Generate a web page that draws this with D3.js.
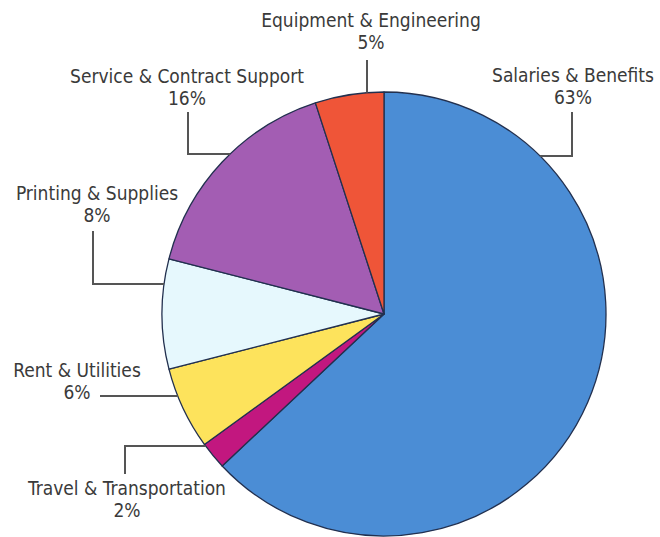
<!DOCTYPE html>
<html>
<head>
<meta charset="utf-8">
<script src="https://cdn.jsdelivr.net/npm/d3@7"></script>
<style>
  body { margin: 0; background: #fff; }
  .lbl { font-family: "Liberation Sans Narrow", "DejaVu Sans Condensed", sans-serif; font-size: 19px; fill: #3a3a3a; }
</style>
</head>
<body>
<div id="chart"></div>
<script>
var svgWidth = 660;
var svgHeight = 537;

// data, clockwise from 12 o'clock
var categories = ["Salaries & Benefits", "Travel & Transportation", "Rent & Utilities",
  "Printing & Supplies", "Service & Contract Support", "Equipment & Engineering"];
var shares = [63, 2, 6, 8, 16, 5];
var colors = ["#4b8dd5", "#c2177f", "#fde35c", "#e6f8fd", "#a35db3", "#ef5538"];

// label layout: text centre x, first baseline y, and leader path kind
var labelPos = [
  { x: 573, y: 82, leader: "downLeft", lx: 572, ly1: 112, ly: 156 },
  { x: 127, y: 495, leader: "upRight", lx: 125, ly1: 474, ly: 446 },
  { x: 77, y: 377, leader: "right", lx: 100, ly: 396 },
  { x: 97, y: 200, leader: "downRight", lx: 93, ly1: 231, ly: 284 },
  { x: 187, y: 83, leader: "downRight", lx: 188, ly1: 112, ly: 154 },
  { x: 371, y: 27, leader: "down", lx: 367, ly1: 60 }
];

var cx = 384, cy = 314, radius = 222;

var svg = d3.select("#chart")
  .append("svg")
  .attr("width", svgWidth)
  .attr("height", svgHeight);

var pieGroup = svg.append("g")
  .attr("transform", `translate(${cx}, ${cy})`);

var pie = d3.pie().sort(null).value(d => d);
var arc = d3.arc().innerRadius(0).outerRadius(radius);

pieGroup.selectAll("path")
  .data(pie(shares))
  .enter()
  .append("path")
  .attr("d", arc)
  .attr("fill", (d, i) => colors[i])
  .attr("stroke", "#22304f")
  .attr("stroke-width", 1.3)
  .attr("stroke-linejoin", "round");

// where a horizontal line at y meets the pie edge
function edgeX(y, side) {
  var dy = y - cy;
  return cx + side * Math.sqrt(radius * radius - dy * dy);
}
function edgeY(x) {
  var dx = x - cx;
  return cy - Math.sqrt(radius * radius - dx * dx);
}

var leaders = svg.append("g")
  .attr("fill", "none")
  .attr("stroke", "#555")
  .attr("stroke-width", 2);

labelPos.forEach(function(p, i) {
  var path = d3.path();
  if (p.leader === "downLeft") {
    path.moveTo(p.lx, p.ly1);
    path.lineTo(p.lx, p.ly);
    path.lineTo(edgeX(p.ly, 1), p.ly);
  } else if (p.leader === "downRight") {
    path.moveTo(p.lx, p.ly1);
    path.lineTo(p.lx, p.ly);
    path.lineTo(edgeX(p.ly, -1), p.ly);
  } else if (p.leader === "upRight") {
    path.moveTo(p.lx, p.ly1);
    path.lineTo(p.lx, p.ly);
    path.lineTo(edgeX(p.ly, -1), p.ly);
  } else if (p.leader === "right") {
    path.moveTo(p.lx, p.ly);
    path.lineTo(edgeX(p.ly, -1), p.ly);
  } else if (p.leader === "down") {
    path.moveTo(p.lx, p.ly1);
    path.lineTo(p.lx, edgeY(p.lx));
  }
  leaders.append("path").attr("d", path.toString());

  var t = svg.append("text")
    .attr("class", "lbl")
    .attr("text-anchor", "middle")
    .attr("x", p.x)
    .attr("y", p.y);
  t.append("tspan").attr("x", p.x).text(categories[i]);
  t.append("tspan").attr("x", p.x).attr("dy", 22).text(shares[i] + "%");
});
</script>
</body>
</html>
